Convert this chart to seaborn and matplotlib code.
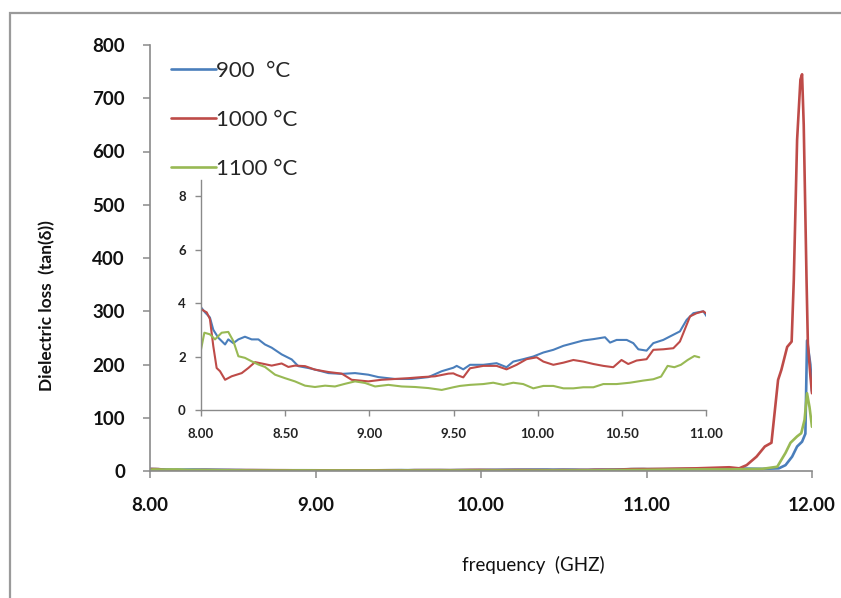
import numpy as np
import pandas as pd
import seaborn as sns
import matplotlib.pyplot as plt
from matplotlib.patches import Rectangle
from matplotlib.ticker import FormatStrFormatter

# readings: frequency (GHz) and tan(delta)
f_900 = [8.000, 8.024, 8.053, 8.073, 8.103, 8.143, 8.162, 8.192, 8.222, 8.261, 8.301,
         8.341, 8.380, 8.420, 8.479, 8.539, 8.578, 8.638, 8.697, 8.757, 8.836, 8.915,
         8.994, 9.054, 9.153, 9.252, 9.351, 9.430, 9.499, 9.519, 9.558, 9.598, 9.677,
         9.756, 9.815, 9.855, 9.914, 9.974, 10.034, 10.093, 10.153, 10.212, 10.271,
         10.331, 10.400, 10.430, 10.469, 10.529, 10.568, 10.598, 10.647, 10.687, 10.746,
         10.786, 10.845, 10.885, 10.925, 10.984, 11.004,
         11.10, 11.30, 11.50, 11.70, 11.80, 11.84, 11.88, 11.91, 11.94, 11.96, 11.97,
         11.99, 12.00]
v_900 = [3.84, 3.65, 3.46, 3.00, 2.70, 2.45, 2.64, 2.50, 2.64, 2.74, 2.64,
         2.64, 2.45, 2.33, 2.08, 1.89, 1.64, 1.57, 1.48, 1.38, 1.35, 1.38,
         1.32, 1.23, 1.16, 1.16, 1.23, 1.45, 1.58, 1.65, 1.52, 1.69, 1.69,
         1.75, 1.60, 1.81, 1.90, 2.00, 2.15, 2.25, 2.40, 2.50, 2.60,
         2.65, 2.72, 2.52, 2.62, 2.62, 2.50, 2.27, 2.22, 2.50, 2.62,
         2.75, 2.94, 3.37, 3.62, 3.69, 3.50,
         3.5, 4.0, 5.0, 4.0, 5.0, 11, 27, 46, 55, 70, 245,
         200, 150]

f_1000 = [8.000, 8.034, 8.053, 8.073, 8.093, 8.113, 8.143, 8.182, 8.242, 8.281, 8.321,
          8.360, 8.420, 8.479, 8.519, 8.558, 8.618, 8.677, 8.757, 8.836, 8.895, 8.994,
          9.073, 9.153, 9.232, 9.311, 9.390, 9.470, 9.499, 9.519, 9.558, 9.598, 9.677,
          9.756, 9.815, 9.875, 9.934, 9.994, 10.034, 10.093, 10.153, 10.212, 10.271,
          10.331, 10.390, 10.449, 10.498, 10.538, 10.588, 10.647, 10.687, 10.746, 10.806,
          10.845, 10.865, 10.905, 10.944, 10.984, 11.004,
          11.10, 11.30, 11.50, 11.56, 11.605, 11.665, 11.715, 11.755, 11.795, 11.815,
          11.85, 11.877, 11.89, 11.91, 11.93, 11.94, 11.95, 11.967, 11.975, 11.99, 12.00]
v_1000 = [3.77, 3.65, 3.40, 2.39, 1.57, 1.45, 1.13, 1.26, 1.38, 1.57, 1.79,
          1.74, 1.66, 1.74, 1.61, 1.66, 1.64, 1.51, 1.42, 1.36, 1.13, 1.07,
          1.13, 1.16, 1.19, 1.23, 1.26, 1.36, 1.37, 1.31, 1.22, 1.56, 1.65,
          1.65, 1.52, 1.69, 1.90, 1.97, 1.81, 1.69, 1.77, 1.87, 1.81,
          1.72, 1.65, 1.60, 1.87, 1.72, 1.85, 1.90, 2.25, 2.27, 2.31,
          2.56, 2.87, 3.50, 3.62, 3.69, 3.60,
          4.0, 5.0, 7.0, 5.0, 11, 27, 46, 53, 171, 190,
          233, 243, 359, 622, 735, 745, 650, 359, 240, 180, 146]

f_1100 = [8.000, 8.020, 8.053, 8.083, 8.123, 8.162, 8.192, 8.222, 8.261, 8.301, 8.341,
          8.380, 8.440, 8.499, 8.558, 8.618, 8.677, 8.737, 8.796, 8.856, 8.915, 8.975,
          9.034, 9.113, 9.192, 9.272, 9.351, 9.430, 9.499, 9.538, 9.598, 9.677, 9.736,
          9.796, 9.855, 9.914, 9.974, 10.034, 10.093, 10.153, 10.212, 10.271, 10.331,
          10.390, 10.469, 10.548, 10.627, 10.687, 10.733, 10.772, 10.812, 10.851, 10.891,
          10.931, 10.960,
          11.10, 11.30, 11.50, 11.70, 11.79, 11.84, 11.87, 11.91, 11.935, 11.955, 11.97,
          11.985, 12.00]
v_1100 = [2.26, 2.89, 2.83, 2.64, 2.89, 2.92, 2.58, 2.01, 1.95, 1.82, 1.70,
          1.61, 1.32, 1.19, 1.07, 0.91, 0.86, 0.91, 0.88, 0.98, 1.07, 1.01,
          0.88, 0.94, 0.88, 0.86, 0.82, 0.75, 0.85, 0.90, 0.94, 0.97, 1.02,
          0.94, 1.02, 0.97, 0.81, 0.90, 0.90, 0.81, 0.81, 0.85, 0.85,
          0.97, 0.97, 1.02, 1.10, 1.15, 1.25, 1.65, 1.60, 1.69, 1.87,
          2.02, 1.97,
          2.5, 3.0, 3.0, 4.0, 8, 34, 53, 65, 71, 96, 146,
          120, 83]

series_labels = ["900  °C", "1000 °C", "1100 °C"]
colors = ["#4A7EBB", "#BE4B48", "#98B954"]

df = pd.concat([
    pd.DataFrame({"freq": f_900, "loss": v_900, "temp": series_labels[0]}),
    pd.DataFrame({"freq": f_1000, "loss": v_1000, "temp": series_labels[1]}),
    pd.DataFrame({"freq": f_1100, "loss": v_1100, "temp": series_labels[2]}),
], ignore_index=True)
inset_df = df[df["freq"] <= 11.01]

sns.set_style("white")
plt.rcParams["font.family"] = ["Lato", "DejaVu Sans"]

W, H = 841, 598
fig = plt.figure(figsize=(W / 100, H / 100), dpi=100)

# outer frame of the original picture (cut off on the right and bottom)
fig.patches.append(Rectangle((10 / W, -0.1), 1.2, 1 - 13 / H + 0.1, fill=False,
                             edgecolor="#9a9a9a", lw=1.6, transform=fig.transFigure))

ax = fig.add_axes([150 / W, (H - 471) / H, 662 / W, 426 / H])
sns.lineplot(data=df, x="freq", y="loss", hue="temp", palette=colors, ax=ax,
             sort=False, estimator=None, legend=False, lw=1.9)
ax.set_xlim(8, 12)
ax.set_ylim(0, 800)
ax.set_xticks([8, 9, 10, 11, 12])
ax.set_yticks(range(0, 801, 100))
ax.xaxis.set_major_formatter(FormatStrFormatter("%.2f"))
ax.set_xlabel("")
ax.set_ylabel("")
for s in ["top", "right"]:
    ax.spines[s].set_visible(False)
for s in ["left", "bottom"]:
    ax.spines[s].set_color("#8a8a8a")
    ax.spines[s].set_linewidth(1.2)
ax.tick_params(axis="both", direction="out", length=5, width=1.1, color="#8a8a8a",
               labelsize=13.5, labelcolor="#111111", bottom=True, left=True)
ax.tick_params(axis="y", pad=13)
ax.tick_params(axis="x", pad=14)
for lab in ax.get_xticklabels() + ax.get_yticklabels():
    lab.set_fontweight("bold")

fig.text(47 / W, 1 - 306 / H, "Dielectric loss  (tan(δ))", rotation=90,
         ha="center", va="center", fontsize=12.5, fontweight="bold", color="#111111")
fig.text(533 / W, 1 - 565 / H, "frequency  (GHZ)", ha="center", va="center",
         fontsize=13.5, color="#111111")

fig.legend(handles=ax.lines[:3], labels=series_labels, loc="upper left",
           bbox_to_anchor=(160 / W, 1 - 50 / H), frameon=False, fontsize=16,
           handlelength=2.0, handletextpad=0.0, labelspacing=1.3, borderpad=0)

# inset zoom of the 8-11 GHz range
ins = fig.add_axes([201 / W, (H - 410) / H, 505 / W, 230 / H])
ins.patch.set_alpha(0)
sns.lineplot(data=inset_df, x="freq", y="loss", hue="temp", palette=colors, ax=ins,
             sort=False, estimator=None, legend=False, lw=1.5)
ins.set_xlim(8, 11)
ins.set_ylim(0, 8.6)
ins.set_xticks(np.arange(8, 11.01, 0.5))
ins.set_yticks([0, 2, 4, 6, 8])
ins.xaxis.set_major_formatter(FormatStrFormatter("%.2f"))
ins.set_xlabel("")
ins.set_ylabel("")
for s in ["top", "right"]:
    ins.spines[s].set_visible(False)
for s in ["left", "bottom"]:
    ins.spines[s].set_color("#8a8a8a")
    ins.spines[s].set_linewidth(1.0)
ins.tick_params(axis="both", direction="out", length=4, width=1.0, color="#8a8a8a",
                labelsize=9.5, labelcolor="#222222", bottom=True, left=True)
ins.tick_params(axis="x", pad=9)
ins.tick_params(axis="y", pad=7)
for lab in ins.get_xticklabels() + ins.get_yticklabels():
    lab.set_fontweight("bold")

fig.savefig("out.png", dpi=100)
